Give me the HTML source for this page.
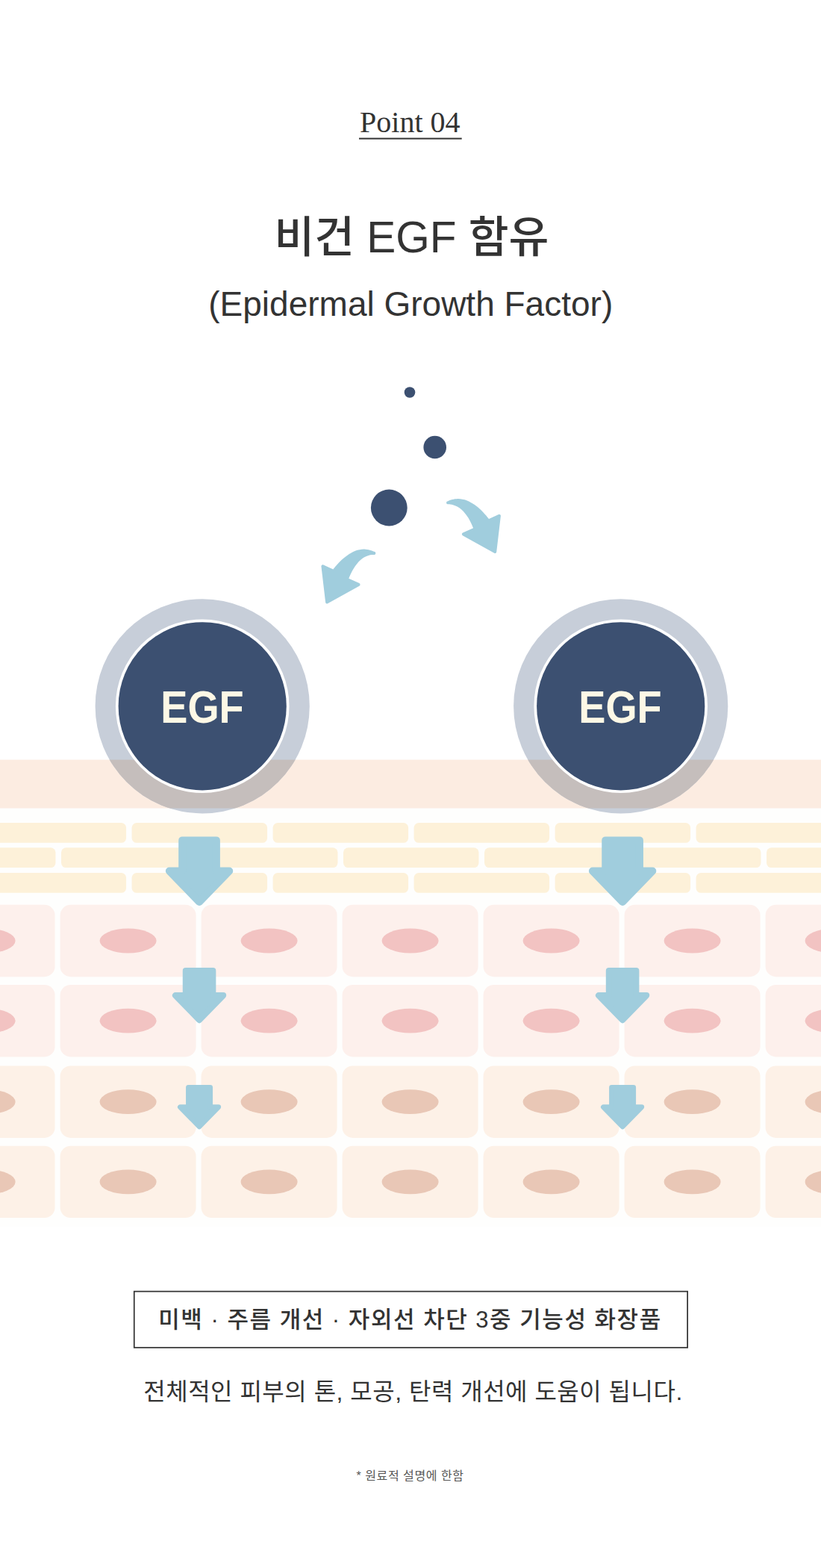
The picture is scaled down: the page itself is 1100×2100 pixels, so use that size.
<!DOCTYPE html>
<html lang="ko"><head><meta charset="utf-8"><title>Point 04 - 비건 EGF 함유</title>
<style>
html,body{margin:0;padding:0;background:#ffffff}
body{width:1100px;height:2100px;position:relative;overflow:hidden;font-family:"Liberation Sans",sans-serif}
.egf{position:absolute;top:907px;width:200px;height:80px;line-height:80px;text-align:center;font-family:"Liberation Sans",sans-serif;font-weight:bold;font-size:61.6px;letter-spacing:0;transform:scaleX(.88);color:#fdf8e6;white-space:nowrap}
</style></head><body>
<svg width="1100" height="2100" viewBox="0 0 1100 2100" style="position:absolute;left:0;top:0"><defs><clipPath id="cb"><rect x="0" y="1017.5" width="1100" height="65"/></clipPath></defs><rect x="0" y="1082.5" width="1100" height="560" fill="#fefefd"/><rect x="0" y="1017.5" width="1100" height="65" fill="#fcece1"/><rect x="-201.4" y="1102" width="181.5" height="26.8" rx="6.5" fill="#fdf1d9"/><rect x="-12.4" y="1102" width="181.5" height="26.8" rx="6.5" fill="#fdf1d9"/><rect x="176.6" y="1102" width="181.5" height="26.8" rx="6.5" fill="#fdf1d9"/><rect x="365.6" y="1102" width="181.5" height="26.8" rx="6.5" fill="#fdf1d9"/><rect x="554.6" y="1102" width="181.5" height="26.8" rx="6.5" fill="#fdf1d9"/><rect x="743.6" y="1102" width="181.5" height="26.8" rx="6.5" fill="#fdf1d9"/><rect x="932.6" y="1102" width="181.5" height="26.8" rx="6.5" fill="#fdf1d9"/><rect x="-296" y="1135.3" width="181.5" height="26.8" rx="6.5" fill="#fdf1d9"/><rect x="-107" y="1135.3" width="181.5" height="26.8" rx="6.5" fill="#fdf1d9"/><rect x="82" y="1135.3" width="181.5" height="26.8" rx="6.5" fill="#fdf1d9"/><rect x="271" y="1135.3" width="181.5" height="26.8" rx="6.5" fill="#fdf1d9"/><rect x="460" y="1135.3" width="181.5" height="26.8" rx="6.5" fill="#fdf1d9"/><rect x="649" y="1135.3" width="181.5" height="26.8" rx="6.5" fill="#fdf1d9"/><rect x="838" y="1135.3" width="181.5" height="26.8" rx="6.5" fill="#fdf1d9"/><rect x="1027" y="1135.3" width="181.5" height="26.8" rx="6.5" fill="#fdf1d9"/><rect x="-201.4" y="1169" width="181.5" height="26.8" rx="6.5" fill="#fdf1d9"/><rect x="-12.4" y="1169" width="181.5" height="26.8" rx="6.5" fill="#fdf1d9"/><rect x="176.6" y="1169" width="181.5" height="26.8" rx="6.5" fill="#fdf1d9"/><rect x="365.6" y="1169" width="181.5" height="26.8" rx="6.5" fill="#fdf1d9"/><rect x="554.6" y="1169" width="181.5" height="26.8" rx="6.5" fill="#fdf1d9"/><rect x="743.6" y="1169" width="181.5" height="26.8" rx="6.5" fill="#fdf1d9"/><rect x="932.6" y="1169" width="181.5" height="26.8" rx="6.5" fill="#fdf1d9"/><rect x="-108.4" y="1211.8" width="182.0" height="96.4" rx="14" fill="#fdf0ec"/><ellipse cx="-17.4" cy="1260" rx="38" ry="16.4" fill="#f2c3c2"/><rect x="80.6" y="1211.8" width="182.0" height="96.4" rx="14" fill="#fdf0ec"/><ellipse cx="171.6" cy="1260" rx="38" ry="16.4" fill="#f2c3c2"/><rect x="269.6" y="1211.8" width="182.0" height="96.4" rx="14" fill="#fdf0ec"/><ellipse cx="360.6" cy="1260" rx="38" ry="16.4" fill="#f2c3c2"/><rect x="458.6" y="1211.8" width="182.0" height="96.4" rx="14" fill="#fdf0ec"/><ellipse cx="549.6" cy="1260" rx="38" ry="16.4" fill="#f2c3c2"/><rect x="647.6" y="1211.8" width="182.0" height="96.4" rx="14" fill="#fdf0ec"/><ellipse cx="738.6" cy="1260" rx="38" ry="16.4" fill="#f2c3c2"/><rect x="836.6" y="1211.8" width="182.0" height="96.4" rx="14" fill="#fdf0ec"/><ellipse cx="927.6" cy="1260" rx="38" ry="16.4" fill="#f2c3c2"/><rect x="1025.6" y="1211.8" width="182.0" height="96.4" rx="14" fill="#fdf0ec"/><ellipse cx="1116.6" cy="1260" rx="38" ry="16.4" fill="#f2c3c2"/><rect x="-108.4" y="1319" width="182.0" height="96.4" rx="14" fill="#fdf0ec"/><ellipse cx="-17.4" cy="1367.2" rx="38" ry="16.4" fill="#f2c3c2"/><rect x="80.6" y="1319" width="182.0" height="96.4" rx="14" fill="#fdf0ec"/><ellipse cx="171.6" cy="1367.2" rx="38" ry="16.4" fill="#f2c3c2"/><rect x="269.6" y="1319" width="182.0" height="96.4" rx="14" fill="#fdf0ec"/><ellipse cx="360.6" cy="1367.2" rx="38" ry="16.4" fill="#f2c3c2"/><rect x="458.6" y="1319" width="182.0" height="96.4" rx="14" fill="#fdf0ec"/><ellipse cx="549.6" cy="1367.2" rx="38" ry="16.4" fill="#f2c3c2"/><rect x="647.6" y="1319" width="182.0" height="96.4" rx="14" fill="#fdf0ec"/><ellipse cx="738.6" cy="1367.2" rx="38" ry="16.4" fill="#f2c3c2"/><rect x="836.6" y="1319" width="182.0" height="96.4" rx="14" fill="#fdf0ec"/><ellipse cx="927.6" cy="1367.2" rx="38" ry="16.4" fill="#f2c3c2"/><rect x="1025.6" y="1319" width="182.0" height="96.4" rx="14" fill="#fdf0ec"/><ellipse cx="1116.6" cy="1367.2" rx="38" ry="16.4" fill="#f2c3c2"/><rect x="-108.4" y="1427.5" width="182.0" height="96.4" rx="14" fill="#fdf1e7"/><ellipse cx="-17.4" cy="1475.7" rx="38" ry="16.4" fill="#e9c7b6"/><rect x="80.6" y="1427.5" width="182.0" height="96.4" rx="14" fill="#fdf1e7"/><ellipse cx="171.6" cy="1475.7" rx="38" ry="16.4" fill="#e9c7b6"/><rect x="269.6" y="1427.5" width="182.0" height="96.4" rx="14" fill="#fdf1e7"/><ellipse cx="360.6" cy="1475.7" rx="38" ry="16.4" fill="#e9c7b6"/><rect x="458.6" y="1427.5" width="182.0" height="96.4" rx="14" fill="#fdf1e7"/><ellipse cx="549.6" cy="1475.7" rx="38" ry="16.4" fill="#e9c7b6"/><rect x="647.6" y="1427.5" width="182.0" height="96.4" rx="14" fill="#fdf1e7"/><ellipse cx="738.6" cy="1475.7" rx="38" ry="16.4" fill="#e9c7b6"/><rect x="836.6" y="1427.5" width="182.0" height="96.4" rx="14" fill="#fdf1e7"/><ellipse cx="927.6" cy="1475.7" rx="38" ry="16.4" fill="#e9c7b6"/><rect x="1025.6" y="1427.5" width="182.0" height="96.4" rx="14" fill="#fdf1e7"/><ellipse cx="1116.6" cy="1475.7" rx="38" ry="16.4" fill="#e9c7b6"/><rect x="-108.4" y="1534.7" width="182.0" height="96.4" rx="14" fill="#fdf1e7"/><ellipse cx="-17.4" cy="1582.9" rx="38" ry="16.4" fill="#e9c7b6"/><rect x="80.6" y="1534.7" width="182.0" height="96.4" rx="14" fill="#fdf1e7"/><ellipse cx="171.6" cy="1582.9" rx="38" ry="16.4" fill="#e9c7b6"/><rect x="269.6" y="1534.7" width="182.0" height="96.4" rx="14" fill="#fdf1e7"/><ellipse cx="360.6" cy="1582.9" rx="38" ry="16.4" fill="#e9c7b6"/><rect x="458.6" y="1534.7" width="182.0" height="96.4" rx="14" fill="#fdf1e7"/><ellipse cx="549.6" cy="1582.9" rx="38" ry="16.4" fill="#e9c7b6"/><rect x="647.6" y="1534.7" width="182.0" height="96.4" rx="14" fill="#fdf1e7"/><ellipse cx="738.6" cy="1582.9" rx="38" ry="16.4" fill="#e9c7b6"/><rect x="836.6" y="1534.7" width="182.0" height="96.4" rx="14" fill="#fdf1e7"/><ellipse cx="927.6" cy="1582.9" rx="38" ry="16.4" fill="#e9c7b6"/><rect x="1025.6" y="1534.7" width="182.0" height="96.4" rx="14" fill="#fdf1e7"/><ellipse cx="1116.6" cy="1582.9" rx="38" ry="16.4" fill="#e9c7b6"/><path d="M244.2,1125.4L289.9,1125.4L289.9,1166.5L307.25,1166.5L267.05,1208L226.85,1166.5L244.2,1166.5Z" fill="#a0cddd" stroke="#a0cddd" stroke-width="10" stroke-linejoin="round"/><path d="M248.75,1299.9L285.35,1299.9L285.35,1333.1L299.2,1333.1L267.05,1366.22L234.9,1333.1L248.75,1333.1Z" fill="#a0cddd" stroke="#a0cddd" stroke-width="8" stroke-linejoin="round"/><path d="M252.45,1456.3L281.65,1456.3L281.65,1482.6L292.75,1482.6L267.05,1508.83L241.35,1482.6L252.45,1482.6Z" fill="#a0cddd" stroke="#a0cddd" stroke-width="6.8" stroke-linejoin="round"/><path d="M811.25,1125.4L856.95,1125.4L856.95,1166.5L874.3,1166.5L834.1,1208L793.9,1166.5L811.25,1166.5Z" fill="#a0cddd" stroke="#a0cddd" stroke-width="10" stroke-linejoin="round"/><path d="M815.8,1299.9L852.4,1299.9L852.4,1333.1L866.25,1333.1L834.1,1366.22L801.95,1333.1L815.8,1333.1Z" fill="#a0cddd" stroke="#a0cddd" stroke-width="8" stroke-linejoin="round"/><path d="M819.5,1456.3L848.7,1456.3L848.7,1482.6L859.8,1482.6L834.1,1508.83L808.4,1482.6L819.5,1482.6Z" fill="#a0cddd" stroke="#a0cddd" stroke-width="6.8" stroke-linejoin="round"/><circle cx="271.2" cy="945.8" r="143.6" fill="#c7ced9"/><circle cx="271.2" cy="945.8" r="143.6" fill="#c5bebc" clip-path="url(#cb)"/><circle cx="271.2" cy="945.8" r="116.3" fill="#ffffff"/><circle cx="271.2" cy="945.8" r="112.6" fill="#3c5071"/><circle cx="831.7" cy="945.8" r="143.6" fill="#c7ced9"/><circle cx="831.7" cy="945.8" r="143.6" fill="#c5bebc" clip-path="url(#cb)"/><circle cx="831.7" cy="945.8" r="116.3" fill="#ffffff"/><circle cx="831.7" cy="945.8" r="112.6" fill="#3c5071"/><circle cx="549" cy="525.5" r="7.3" fill="#3c5071"/><circle cx="582.7" cy="599" r="15.3" fill="#3c5071"/><circle cx="521.3" cy="680" r="24.4" fill="#3c5071"/><path d="M165,178C175.83,174.17 205.83,160.83 230,155C254.17,149.17 285,143.83 310,143C335,142.17 356.67,145.5 380,150C403.33,154.5 420,156.33 450,170C480,183.67 526.67,209.5 560,232C593.33,254.5 623.33,280.33 650,305C676.67,329.67 700,357.5 720,380C740,402.5 761.67,430 770,440L914.01,373.48A22,22 0 0 1 945.08,396.04L882.45,925.73A22,22 0 0 1 849.92,942.38L383.5,683.38A22,22 0 0 1 385.22,644.06L540,575C535,563.33 521.67,529.17 510,505C498.33,480.83 485,454.17 470,430C455,405.83 436.67,380.83 420,360C403.33,339.17 388.33,321.33 370,305C351.67,288.67 330,273.33 310,262C290,250.67 268.33,243 250,237C231.67,231 215,228.17 200,226C185,223.83 166.67,224.33 160,224A23.5,23.5 0 0 1 165,178Z" fill="#a0cddd" transform="translate(585,655) scale(0.09091)"/><path d="M165,178C175.83,174.17 205.83,160.83 230,155C254.17,149.17 285,143.83 310,143C335,142.17 356.67,145.5 380,150C403.33,154.5 420,156.33 450,170C480,183.67 526.67,209.5 560,232C593.33,254.5 623.33,280.33 650,305C676.67,329.67 700,357.5 720,380C740,402.5 761.67,430 770,440L914.01,373.48A22,22 0 0 1 945.08,396.04L882.45,925.73A22,22 0 0 1 849.92,942.38L383.5,683.38A22,22 0 0 1 385.22,644.06L540,575C535,563.33 521.67,529.17 510,505C498.33,480.83 485,454.17 470,430C455,405.83 436.67,380.83 420,360C403.33,339.17 388.33,321.33 370,305C351.67,288.67 330,273.33 310,262C290,250.67 268.33,243 250,237C231.67,231 215,228.17 200,226C185,223.83 166.67,224.33 160,224A23.5,23.5 0 0 1 165,178Z" fill="#a0cddd" transform="translate(516.36,722.55) scale(-0.09091,0.09091)"/><text x="549.3" y="176.6" text-anchor="middle" font-family="'Liberation Serif', serif" font-size="40" fill="#333333">Point 04</text><rect x="481" y="184.6" width="137.7" height="2" fill="#333333"/><text x="551.4" y="337.5" text-anchor="middle" font-family="'Liberation Sans', 'Noto Sans CJK KR', sans-serif" font-size="58.5" font-weight="500" fill="#333333">비건 EGF 함유</text><text x="550.25" y="422.7" text-anchor="middle" font-family="'Liberation Sans', 'Noto Sans CJK KR', sans-serif" font-size="46" fill="#333333">(Epidermal Growth Factor)</text><rect x="179.75" y="1729.6" width="741.4" height="75.2" fill="none" stroke="#303030" stroke-width="1.7"/><text x="548.7" y="1778" text-anchor="middle" textLength="673" lengthAdjust="spacing" font-family="'Liberation Sans', 'Noto Sans CJK KR', sans-serif" font-size="31" font-weight="500" fill="#333333">미백 · 주름 개선 · 자외선 차단 3중 기능성 화장품</text><text x="553.3" y="1875" text-anchor="middle" textLength="722" lengthAdjust="spacing" font-family="'Liberation Sans', 'Noto Sans CJK KR', sans-serif" font-size="32" fill="#333333">전체적인 피부의 톤, 모공, 탄력 개선에 도움이 됩니다.</text><text x="549.25" y="1982.3" text-anchor="middle" textLength="143.3" lengthAdjust="spacing" font-family="'Liberation Sans', 'Noto Sans CJK KR', sans-serif" font-size="16" fill="#555555">* 원료적 설명에 한함</text></svg>
<div class="egf" style="left:170.9px">EGF</div>
<div class="egf" style="left:731.4px">EGF</div>
</body></html>
